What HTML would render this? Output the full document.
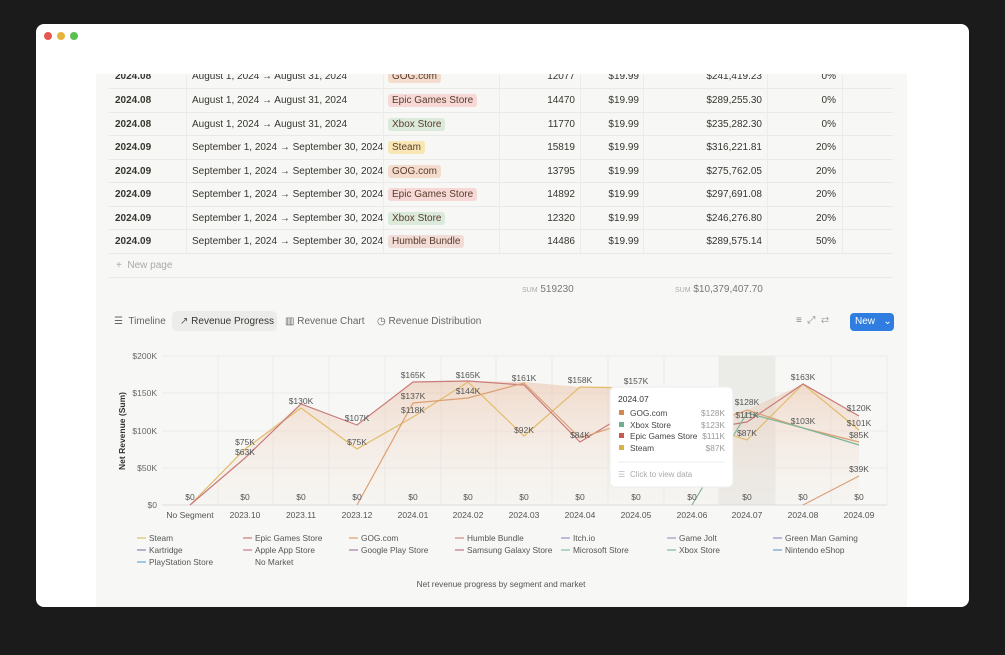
<!DOCTYPE html>
<html><head><meta charset="utf-8"><style>
*{margin:0;padding:0;box-sizing:border-box}
body{width:1005px;height:655px;background:#1b1b1b;font-family:"Liberation Sans",sans-serif;position:relative;overflow:hidden}
.win{position:absolute;left:36px;top:24px;width:933px;height:583px;background:#fff;border-radius:8px;overflow:hidden}
.dot{position:absolute;top:8px;width:8px;height:8px;border-radius:50%}
.gray{position:absolute;left:60px;top:50px;width:811px;height:533px;background:#f7f7f5}
.t{position:absolute;font-size:10px;color:#37352f;white-space:nowrap}
.tag{position:absolute;font-size:10px;padding:1px 4px;border-radius:3px;color:#5a3b2a}
.hl{position:absolute;height:1px;background:#e9e9e7}
.vl{position:absolute;width:1px;background:#ececea}
</style></head><body>
<div class="win">
<div class="dot" style="left:8px;background:#e5574f"></div>
<div class="dot" style="left:21px;background:#e6b43c"></div>
<div class="dot" style="left:34px;background:#5cc04f"></div>
<div class="gray"></div>
</div>
<div style="position:absolute;left:0;top:0">
<div class="hl" style="left:109px;top:88px;width:784px"></div>
<div class="hl" style="left:109px;top:112px;width:784px"></div>
<div class="hl" style="left:109px;top:135px;width:784px"></div>
<div class="hl" style="left:109px;top:159px;width:784px"></div>
<div class="hl" style="left:109px;top:182px;width:784px"></div>
<div class="hl" style="left:109px;top:206px;width:784px"></div>
<div class="hl" style="left:109px;top:229px;width:784px"></div>
<div class="hl" style="left:109px;top:253px;width:784px"></div>
<div class="hl" style="left:109px;top:277px;width:784px"></div>
<div class="vl" style="left:186px;top:74px;height:179px"></div>
<div class="vl" style="left:383px;top:74px;height:179px"></div>
<div class="vl" style="left:499px;top:74px;height:179px"></div>
<div class="vl" style="left:580px;top:74px;height:179px"></div>
<div class="vl" style="left:643px;top:74px;height:179px"></div>
<div class="vl" style="left:767px;top:74px;height:179px"></div>
<div class="vl" style="left:842px;top:74px;height:179px"></div>
</div>
<div id="rows"></div>
<script>
var rows=[
[71,"2024.08","August 1, 2024 → August 31, 2024","GOG.com","#f3dccd","12077","$241,419.23","0%"],
[95,"2024.08","August 1, 2024 → August 31, 2024","Epic Games Store","#f6d9d6","14470","$289,255.30","0%"],
[119,"2024.08","August 1, 2024 → August 31, 2024","Xbox Store","#dbeadb","11770","$235,282.30","0%"],
[142,"2024.09","September 1, 2024 → September 30, 2024","Steam","#f8e7b5","15819","$316,221.81","20%"],
[166,"2024.09","September 1, 2024 → September 30, 2024","GOG.com","#f3dccd","13795","$275,762.05","20%"],
[189,"2024.09","September 1, 2024 → September 30, 2024","Epic Games Store","#f6d9d6","14892","$297,691.08","20%"],
[213,"2024.09","September 1, 2024 → September 30, 2024","Xbox Store","#dbeadb","12320","$246,276.80","20%"],
[236,"2024.09","September 1, 2024 → September 30, 2024","Humble Bundle","#f1dcd7","14486","$289,575.14","50%"]];
var h="";
rows.forEach(function(r){var y=r[0];
h+='<div class="t" style="left:115px;top:'+y+'px;font-weight:bold">'+r[1]+'</div>';
h+='<div class="t" style="left:192px;top:'+y+'px">'+r[2]+'</div>';
h+='<div class="tag" style="left:388px;top:'+(y-1)+'px;background:'+r[4]+'">'+r[3]+'</div>';
h+='<div class="t" style="right:'+(1005-575)+'px;top:'+y+'px">'+r[5]+'</div>';
h+='<div class="t" style="right:'+(1005-639)+'px;top:'+y+'px">$19.99</div>';
h+='<div class="t" style="right:'+(1005-762)+'px;top:'+y+'px">'+r[6]+'</div>';
h+='<div class="t" style="right:'+(1005-836)+'px;top:'+y+'px">'+r[7]+'</div>';});
document.getElementById("rows").innerHTML=h;
</script>
<div style="position:absolute;left:96px;top:50px;width:811px;height:24px;background:#fff"></div>
<div class="t" style="left:116px;top:260px;color:#aaa">+&nbsp;&nbsp;New page</div>
<div class="t" style="left:522px;top:284px;color:#777"><span style="font-size:7px;color:#aaa">SUM</span> 519230</div>
<div class="t" style="left:675px;top:284px;color:#777"><span style="font-size:7px;color:#aaa">SUM</span> $10,379,407.70</div>
<div style="position:absolute;left:172px;top:311px;width:105px;height:20px;background:#ececea;border-radius:5px"></div>
<div class="t" style="left:114px;top:316px;color:#666">☰&nbsp; Timeline</div>
<div class="t" style="left:180px;top:316px"><span style="color:#555">↗</span> Revenue Progress</div>
<div class="t" style="left:285px;top:316px;color:#666">▥ Revenue Chart</div>
<div class="t" style="left:377px;top:316px;color:#666">◷ Revenue Distribution</div>
<div class="t" style="left:796px;top:315px;color:#888">≡&nbsp;&nbsp;⤢&nbsp;&nbsp;⇄</div>
<div style="position:absolute;left:850px;top:313px;width:44px;height:18px;background:#2f7de1;border-radius:4px;color:#fff;font-size:10px;padding:3px 0 0 5px">New&nbsp;&nbsp;&nbsp;⌄</div>
<svg style="position:absolute;left:0;top:0" width="1005" height="655" font-family="Liberation Sans,sans-serif" font-size="8.5">
<defs><linearGradient id="g" x1="0" y1="0" x2="0" y2="1"><stop offset="0" stop-color="#e8b89a" stop-opacity=".45"/><stop offset="1" stop-color="#f3e3d8" stop-opacity=".1"/></linearGradient></defs>
<rect x="719" y="356" width="56" height="149" fill="#ebebe8"/>
<g stroke="#ebebe9" stroke-width="1">
<line x1="162" y1="356" x2="887" y2="356"/><line x1="162" y1="393" x2="887" y2="393"/><line x1="162" y1="431" x2="887" y2="431"/><line x1="162" y1="468" x2="887" y2="468"/>
<line x1="218" y1="356" x2="218" y2="505"/><line x1="273" y1="356" x2="273" y2="505"/><line x1="329" y1="356" x2="329" y2="505"/><line x1="385" y1="356" x2="385" y2="505"/><line x1="441" y1="356" x2="441" y2="505"/><line x1="496" y1="356" x2="496" y2="505"/><line x1="552" y1="356" x2="552" y2="505"/><line x1="608" y1="356" x2="608" y2="505"/><line x1="664" y1="356" x2="664" y2="505"/><line x1="719" y1="356" x2="719" y2="505"/><line x1="775" y1="356" x2="775" y2="505"/><line x1="831" y1="356" x2="831" y2="505"/><line x1="887" y1="356" x2="887" y2="505"/>
</g>
<line x1="162" y1="505" x2="887" y2="505" stroke="#ddd"/>
<polygon fill="url(#g)" points="190,505 245,449 301,404 357,425 413,382 468,381 524,382 580,387 636,388 692,423 747,410 803,384 859,416 859,505"/>
<g fill="none" stroke-width="1.2">
<polyline stroke="#e2bc6a" points="190,505 245,449 301,408 357,449 413,417 468,382 524,436 580,387 636,388 692,423 747,440 803,384 859,430"/>
<polyline stroke="#c97a7a" points="190,505 245,458 301,404 357,425 413,382 468,381 524,385 580,442 636,408 692,431 747,422 803,384 859,416"/>
<polyline stroke="#dca072" points="357,505 413,403 468,398 524,383 580,438 636,420 692,431 747,410 803,428 859,442"/>
<polyline stroke="#7fb59a" points="692,505 747,413 803,428 859,445"/>
<polyline stroke="#d8a07a" points="803,505 859,476"/>
</g>
<g fill="#666" text-anchor="end"><text x="157" y="359">$200K</text><text x="157" y="396">$150K</text><text x="157" y="434">$100K</text><text x="157" y="471">$50K</text><text x="157" y="508">$0</text></g>
<text transform="translate(125,431) rotate(-90)" text-anchor="middle" font-weight="bold" fill="#333" font-size="8.5">Net Revenue (Sum)</text>
<g fill="#555" text-anchor="middle">
<text x="190" y="518">No Segment</text><text x="245" y="518">2023.10</text><text x="301" y="518">2023.11</text><text x="357" y="518">2023.12</text><text x="413" y="518">2024.01</text><text x="468" y="518">2024.02</text><text x="524" y="518">2024.03</text><text x="580" y="518">2024.04</text><text x="636" y="518">2024.05</text><text x="692" y="518">2024.06</text><text x="747" y="518">2024.07</text><text x="803" y="518">2024.08</text><text x="859" y="518">2024.09</text>
<text x="190" y="500">$0</text><text x="245" y="500">$0</text><text x="301" y="500">$0</text><text x="357" y="500">$0</text><text x="413" y="500">$0</text><text x="468" y="500">$0</text><text x="524" y="500">$0</text><text x="580" y="500">$0</text><text x="636" y="500">$0</text><text x="692" y="500">$0</text><text x="747" y="500">$0</text><text x="803" y="500">$0</text><text x="859" y="500">$0</text>
<text x="245" y="445">$75K</text><text x="245" y="455">$63K</text><text x="301" y="404">$130K</text><text x="357" y="421">$107K</text><text x="357" y="445">$75K</text>
<text x="413" y="378">$165K</text><text x="413" y="399">$137K</text><text x="413" y="413">$118K</text><text x="468" y="378">$165K</text><text x="468" y="394">$144K</text>
<text x="524" y="381">$161K</text><text x="524" y="433">$92K</text><text x="580" y="383">$158K</text><text x="580" y="438">$84K</text><text x="636" y="384">$157K</text>
<text x="747" y="405">$128K</text><text x="747" y="418">$111K</text><text x="747" y="436">$87K</text><text x="803" y="380">$163K</text><text x="803" y="424">$103K</text>
<text x="859" y="411">$120K</text><text x="859" y="426">$101K</text><text x="859" y="438">$85K</text><text x="859" y="472">$39K</text>
</g>
<rect x="610" y="387" width="123" height="100" rx="5" fill="#fff" stroke="#eee"/>
<text x="618" y="402" fill="#333" font-size="8.5">2024.07</text>
<g font-size="8.3"><rect x="619" y="410" width="5" height="5" fill="#d4874f"/><text x="630" y="416" fill="#444">GOG.com</text><text x="725" y="416" fill="#999" text-anchor="end">$128K</text>
<rect x="619" y="422" width="5" height="5" fill="#6fae8e"/><text x="630" y="428" fill="#444">Xbox Store</text><text x="725" y="428" fill="#999" text-anchor="end">$123K</text>
<rect x="619" y="433" width="5" height="5" fill="#c75a55"/><text x="630" y="439" fill="#444">Epic Games Store</text><text x="725" y="439" fill="#999" text-anchor="end">$111K</text>
<rect x="619" y="445" width="5" height="5" fill="#d8b24a"/><text x="630" y="451" fill="#444">Steam</text><text x="725" y="451" fill="#999" text-anchor="end">$87K</text></g>
<line x1="618" y1="462" x2="725" y2="462" stroke="#eee"/>
<text x="630" y="477" fill="#aaa" font-size="8">Click to view data</text><text x="618" y="477" fill="#bbb" font-size="8">☰</text>
<g font-size="8.3" fill="#555">
<g stroke-width="1.2"><line x1="137" y1="538" x2="146" y2="538" stroke="#e2bc6a"/><line x1="243" y1="538" x2="252" y2="538" stroke="#c97a7a"/><line x1="349" y1="538" x2="358" y2="538" stroke="#dca072"/><line x1="455" y1="538" x2="464" y2="538" stroke="#c98a80"/><line x1="561" y1="538" x2="570" y2="538" stroke="#9a8fc8"/><line x1="667" y1="538" x2="676" y2="538" stroke="#a793c0"/><line x1="773" y1="538" x2="782" y2="538" stroke="#9a8fc8"/>
<line x1="137" y1="550" x2="146" y2="550" stroke="#7e86b8"/><line x1="243" y1="550" x2="252" y2="550" stroke="#c97a8a"/><line x1="349" y1="550" x2="358" y2="550" stroke="#b07aa0"/><line x1="455" y1="550" x2="464" y2="550" stroke="#c0708a"/><line x1="561" y1="550" x2="570" y2="550" stroke="#8fbfa8"/><line x1="667" y1="550" x2="676" y2="550" stroke="#7fb5a0"/><line x1="773" y1="550" x2="782" y2="550" stroke="#6a9ed0"/>
<line x1="137" y1="562" x2="146" y2="562" stroke="#6aa6d8"/></g>
<text x="149" y="541">Steam</text><text x="255" y="541">Epic Games Store</text><text x="361" y="541">GOG.com</text><text x="467" y="541">Humble Bundle</text><text x="573" y="541">Itch.io</text><text x="679" y="541">Game Jolt</text><text x="785" y="541">Green Man Gaming</text>
<text x="149" y="553">Kartridge</text><text x="255" y="553">Apple App Store</text><text x="361" y="553">Google Play Store</text><text x="467" y="553">Samsung Galaxy Store</text><text x="573" y="553">Microsoft Store</text><text x="679" y="553">Xbox Store</text><text x="785" y="553">Nintendo eShop</text>
<text x="149" y="565">PlayStation Store</text><text x="255" y="565">No Market</text>
</g>
<text x="501" y="587" text-anchor="middle" fill="#555" font-size="8.3">Net revenue progress by segment and market</text>
</svg>
</body></html>
